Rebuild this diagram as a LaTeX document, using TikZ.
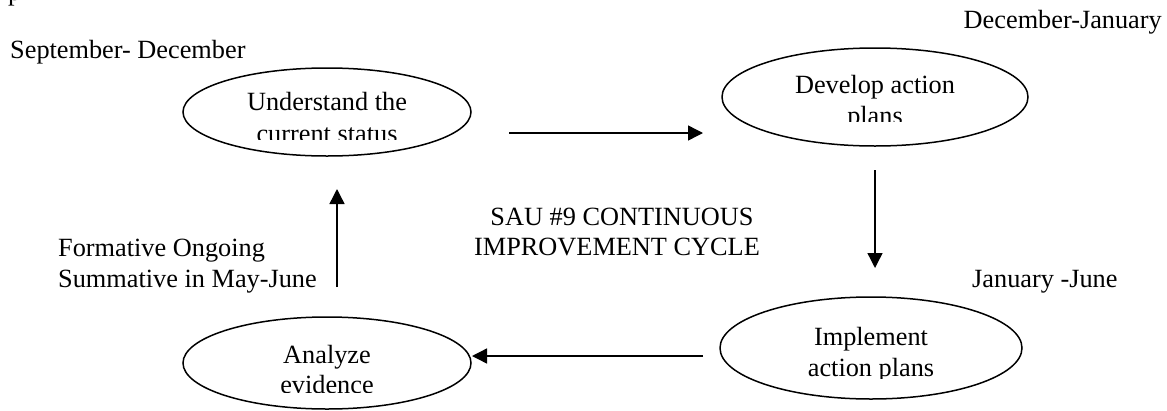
\documentclass[tikz,border=0pt]{standalone}
\usepackage{fontspec}
\setmainfont{Liberation Serif}
\usetikzlibrary{shapes.geometric,arrows.meta}
\begin{document}
\begin{tikzpicture}[x=1pt,y=-1pt,
  lbl/.style={inner sep=0pt,font=\fontsize{26.3}{30}\selectfont},
  oval/.style={draw,ellipse,line width=1.5pt,inner sep=0pt},
  arr/.style={line width=1.4pt,-{Triangle[length=15pt,width=15pt]}}]
\useasboundingbox (0,0) rectangle (1167,410);
% partial glyph at top-left
\node[lbl,anchor=base west] (pfrag) at (8,0.5) {p};
% ellipses
\node[oval,minimum width=288pt,minimum height=88pt] (und) at (327,112) {};
\node[oval,minimum width=306pt,minimum height=98pt] (dev) at (875,97) {};
\node[oval,minimum width=302pt,minimum height=102pt] (imp) at (871,348) {};
\node[oval,minimum width=288pt,minimum height=92pt] (ana) at (327,363) {};
% ellipse texts (clipped as in the original)
\begin{scope}
\clip (183,60) rectangle (472,139);
\node[lbl,anchor=base] (undt1) at (327,110) {Understand the};
\node[lbl,anchor=base] (undt2) at (327,142) {current status};
\end{scope}
\begin{scope}
\clip (722,45) rectangle (1028,121);
\node[lbl,anchor=base] (devt1) at (875,93) {Develop action};
\node[lbl,anchor=base] (devt2) at (875,124) {plans};
\end{scope}
\begin{scope}
\clip (720,300) rectangle (1022,378);
\node[lbl,anchor=base] (impt1) at (871,345) {Implement};
\node[lbl,anchor=base] (impt2) at (871,376) {action plans};
\end{scope}
\begin{scope}
\clip (183,320) rectangle (471,392);
\node[lbl,anchor=base] (anat1) at (327,363) {Analyze};
\node[lbl,anchor=base] (anat2) at (327,393) {evidence};
\end{scope}
% labels
\node[lbl,anchor=base west] (sep) at (10,58) {September- December};
\node[lbl,anchor=base east] (decjan) at (1162,28) {December-January};
\node[lbl,anchor=base west] (janjun) at (972,287) {January -June};
\node[lbl,anchor=base west] (form1) at (58,256) {Formative Ongoing};
\node[lbl,anchor=base west] (form2) at (58,287) {Summative in May-June};
\node[lbl,anchor=base] (sau1) at (622,225) {SAU \#9 CONTINUOUS};
\node[lbl,anchor=base] (sau2) at (617,255) {IMPROVEMENT CYCLE};
% arrows
\coordinate (a1s) at (509,133); \coordinate (a1e) at (703,133);
\coordinate (a2s) at (875,170); \coordinate (a2e) at (875,268);
\coordinate (a3s) at (703,356); \coordinate (a3e) at (472,356);
\coordinate (a4s) at (337,287); \coordinate (a4e) at (337,189);
\draw[arr] (a1s) -- (a1e);
\draw[arr] (a2s) -- (a2e);
\draw[arr] (a3s) -- (a3e);
\draw[arr] (a4s) -- (a4e);
\end{tikzpicture}
\end{document}
